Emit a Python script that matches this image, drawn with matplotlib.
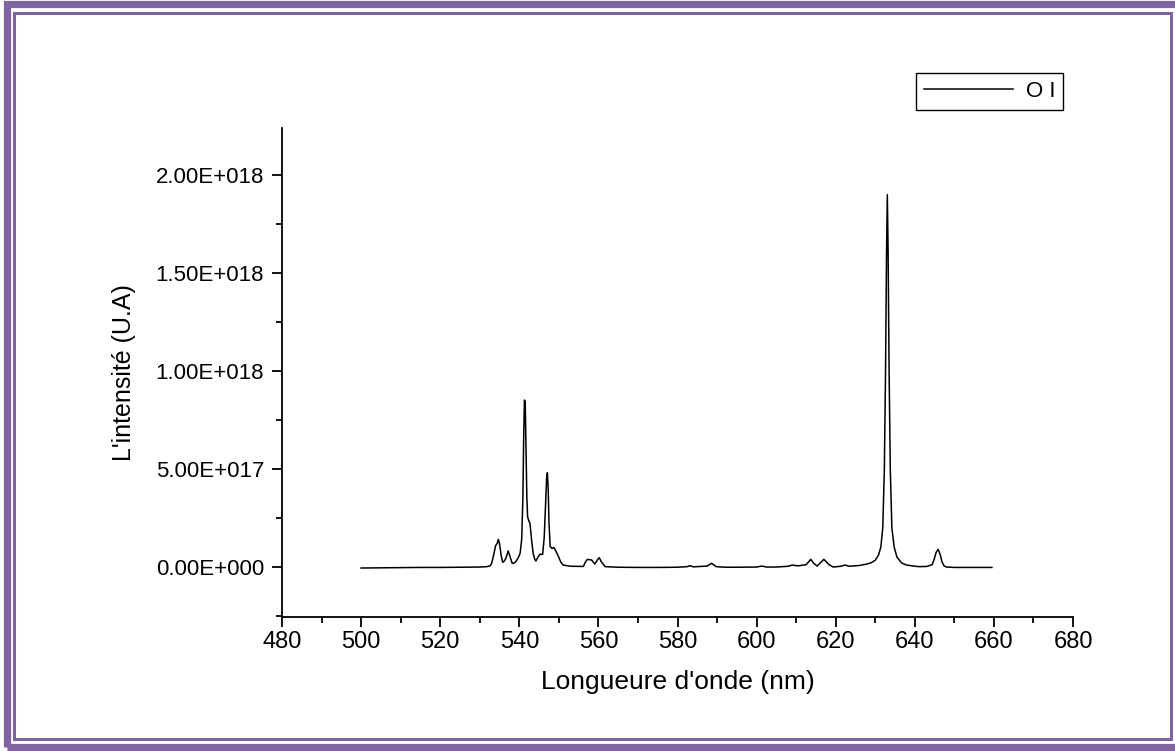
import matplotlib.pyplot as plt
from matplotlib.patches import Rectangle
from matplotlib.ticker import MultipleLocator

plt.rcParams['font.family'] = ['Liberation Sans', 'DejaVu Sans']

# spectrum: wavelength (nm), intensity (x1E17)
wavelength = [500.0, 505, 510, 515, 520, 525, 530, 531.8, 532.6, 533.0, 533.5, 534.0, 534.4, 534.7,
              535.0, 535.4, 535.8, 536.2, 536.6, 537.2, 537.7, 538.2, 538.7, 539.2, 539.8, 540.2,
              540.6, 540.9, 541.1, 541.3, 541.5, 541.7, 541.9, 542.1, 542.4, 542.7, 543.1, 543.5,
              543.9, 544.2, 544.7, 545.2, 545.9, 546.3, 546.6, 546.9, 547.1, 547.3, 547.5, 547.8,
              548.3, 548.8, 549.4, 549.9, 550.5, 551.1, 553, 556.2, 556.7, 557.2, 558.3,
              559.1, 559.7, 560.2, 560.8, 561.7, 565, 570, 575, 580, 582.5, 583.2, 584, 587.5,
              588.6, 589.8, 592, 595, 600, 601.3, 602.5, 605, 608, 609.0, 610.5, 612.5, 613.1,
              613.7, 614.4, 615.3, 616.3, 617.0, 617.7, 618.3, 619.4, 621.3, 622.3, 623.5, 626, 627.8,
              629.0, 630.0, 630.8, 631.4, 631.9, 632.3, 632.6, 632.85, 633.05, 633.25, 633.5,
              633.8, 634.2, 634.8, 635.5, 636.7, 638, 640, 641.3, 643, 644.4, 644.9, 645.4,
              645.9, 646.4, 646.9, 647.4, 648.0, 650, 655, 659.5]
intensity = [-0.05, -0.04, -0.03, -0.02, -0.02, -0.01, 0.0, 0.02, 0.06, 0.18, 0.6, 1.09, 1.2, 1.41,
             1.2, 0.6, 0.24, 0.3, 0.45, 0.82, 0.5, 0.19, 0.2, 0.3, 0.5, 0.7,
             1.4, 3.5, 6.5, 8.52, 8.4, 6.0, 3.6, 2.57, 2.35, 2.23, 1.4, 0.7,
             0.4, 0.31, 0.5, 0.65, 0.65, 1.5, 3.0, 4.5, 4.81, 4.0, 2.3, 1.04,
             0.95, 0.99, 0.75, 0.53, 0.25, 0.1, 0.04, 0.03, 0.25, 0.39, 0.36,
             0.15, 0.35, 0.48, 0.25, 0.02, -0.01, -0.02, -0.02, -0.01, 0.02, 0.07, 0.01, 0.05,
             0.19, 0.02, -0.01, -0.01, 0.0, 0.05, 0.0, 0.0, 0.04, 0.1, 0.06, 0.12, 0.25,
             0.39, 0.2, 0.05, 0.25, 0.39, 0.25, 0.12, 0.0, 0.04, 0.1, 0.04, 0.08, 0.15,
             0.22, 0.35, 0.6, 1.0, 2.0, 5.0, 10.0, 16.0, 19.0, 16.0, 10.0,
             5.0, 2.0, 1.0, 0.5, 0.2, 0.1, 0.04, 0.02, 0.03, 0.12, 0.4, 0.75,
             0.9, 0.65, 0.25, 0.06, 0.0, -0.02, -0.02, -0.02]

ytick_values = [0, 5e17, 1e18, 1.5e18, 2e18]
ytick_labels = ['0.00E+000', '5.00E+017', '1.00E+018', '1.50E+018', '2.00E+018']

fig = plt.figure(figsize=(11.75, 7.51), dpi=100)
ax = fig.add_axes([0.24, 0.1784, 0.6732, 0.6512])

ax.plot(wavelength, [v * 1e17 for v in intensity], color='black', lw=1.1, label='O I')

ax.set_xlim(480, 680)
ax.set_ylim(-2.55e17, 2.24e18)
ax.xaxis.set_major_locator(MultipleLocator(20))
ax.xaxis.set_minor_locator(MultipleLocator(10))
ax.set_yticks(ytick_values)
ax.set_yticklabels(ytick_labels)
ax.yaxis.set_minor_locator(MultipleLocator(2.5e17))

for s in ['top', 'right']:
    ax.spines[s].set_visible(False)
for s in ['left', 'bottom']:
    ax.spines[s].set_linewidth(1.3)
ax.tick_params(which='major', direction='out', length=7, width=1.3, labelsize=16)
ax.tick_params(axis='x', which='major', pad=3, labelsize=17)
ax.tick_params(axis='y', which='major', pad=6)
ax.tick_params(which='minor', direction='out', length=4, width=1.3)

ax.set_xlabel("Longueure d'onde (nm)", fontsize=19, labelpad=12)
ax.set_ylabel("L'intensité (U.A)", fontsize=18, labelpad=14)

leg = ax.legend(loc='center', bbox_to_anchor=(989.5 / 1175, 1 - 91.5 / 751),
                bbox_transform=fig.transFigure, fontsize=16, fancybox=False,
                edgecolor='black', framealpha=1, handlelength=4.0, handletextpad=0.6,
                borderpad=0.35)
leg.get_frame().set_linewidth(1.0)

# purple page border
purple = '#8064A2'
fig.patches.append(Rectangle((6.5, 4), 1190, 743, transform=None, fill=False,
                             edgecolor=purple, linewidth=5.2))
fig.patches.append(Rectangle((13.5, 12), 1157, 726, transform=None, fill=False,
                             edgecolor=purple, linewidth=2.2))

fig.savefig('out.png', dpi=100)
